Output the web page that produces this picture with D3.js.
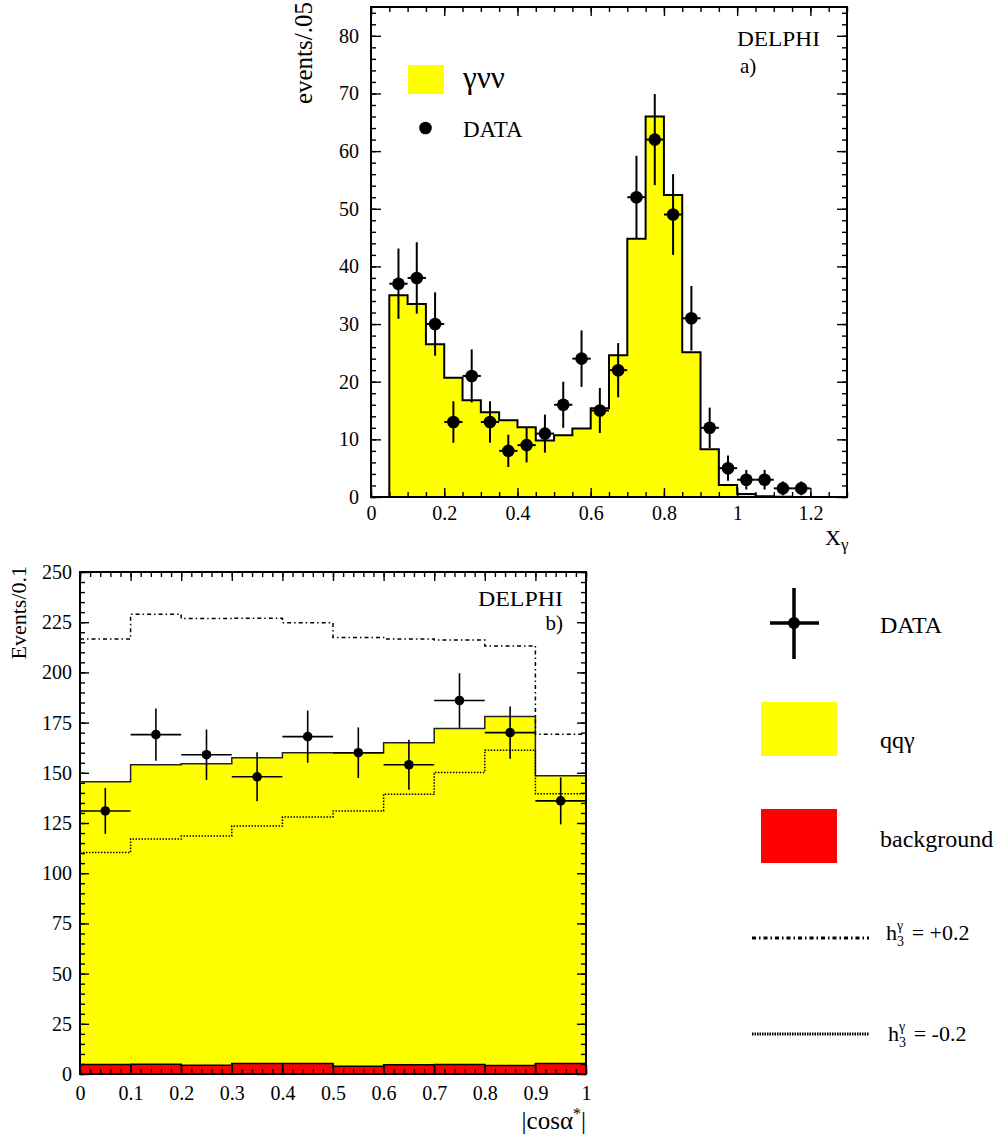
<!DOCTYPE html>
<html>
<head>
<meta charset="utf-8">
<script src="https://cdn.jsdelivr.net/npm/d3@7"></script>
<style>
  html, body { margin: 0; padding: 0; background: #fff; }
  svg { display: block; font-family: "Liberation Serif", "Times New Roman", serif; }
</style>
</head>
<body>
<svg id="chart" width="993" height="1137"></svg>
<script>
// ---------------- DATA: panel a) ----------------
const aBinEdges = [0.05,0.10,0.15,0.20,0.25,0.30,0.35,0.40,0.45,0.50,0.55,0.60,0.65,0.70,0.75,0.80,0.85,0.90,0.95,1.00,1.05,1.10,1.15];
const aMC = [35.0,33.5,26.5,20.7,16.8,14.7,13.3,12.1,9.8,10.7,11.9,15.4,24.6,44.8,66.0,52.4,25.1,8.3,2.1,0.5,0.15,0.05];
const aDataX = [0.075,0.125,0.175,0.225,0.275,0.325,0.375,0.425,0.475,0.525,0.575,0.625,0.675,0.725,0.775,0.825,0.875,0.925,0.975,1.025,1.075,1.125,1.175];
const aDataY = [37,38,30,13,21,13,8,9,11,16,24,15,22,52,62,49,31,12,5,3,3,1.5,1.5];
const aDataErr = [6.1,6.2,5.5,3.6,4.6,3.6,2.8,3.0,3.3,4.0,4.9,3.9,4.7,7.2,7.9,7.0,5.6,3.5,2.2,1.7,1.7,1.2,1.2];
const aXMajor = [0,0.2,0.4,0.6,0.8,1.0,1.2];
const aYMajor = [0,10,20,30,40,50,60,70,80];

// ---------------- DATA: panel b) ----------------
const bBinEdges = [0,0.1,0.2,0.3,0.4,0.5,0.6,0.7,0.8,0.9,1.0];
const bQQG = [145.5,154,154.5,157.5,160,160,165,172,178,148.5];
const bBkg = [4.7,4.9,4.4,5.2,5.2,3.9,4.6,4.7,4.2,5.2];
const bHPlus = [216.6,229,226.8,227,224.7,217.4,216.6,216.1,213.2,169.2];
const bHMinus = [110.3,117,118.5,123.5,128,131,139.3,150.2,161.2,139.6];
const bDataX = [0.05,0.15,0.25,0.35,0.45,0.55,0.65,0.75,0.85,0.95];
const bDataY = [131,169,159,148,168,160,154,186,170,136];
const bDataErr = [11.4,13,12.6,12.2,13,12.6,12.4,13.6,13,11.7];
const bXMajor = [0,0.1,0.2,0.3,0.4,0.5,0.6,0.7,0.8,0.9,1.0];
const bYMajor = [0,25,50,75,100,125,150,175,200,225,250];

// ---------------- helpers ----------------
const svg = d3.select('#chart');
const FONT = '"Liberation Serif", "Times New Roman", serif';
const fmt = d => String(+(+d).toFixed(2));
const range = (a, b, s) => d3.range(Math.round((b - a) / s) + 1).map(i => +(a + i * s).toFixed(4));

function stepPoints(edges, vals, closeToZero) {
  const pts = [];
  if (closeToZero) pts.push([edges[0], 0]);
  vals.forEach((v, i) => { pts.push([edges[i], v]); pts.push([edges[i + 1], v]); });
  if (closeToZero) pts.push([edges[edges.length - 1], 0]);
  return pts;
}

function frameAxes(g, x, y, o) {
  const [x0, x1] = x.range();
  const [y0, y1] = y.range();
  const style = sel => {
    sel.select('.domain').remove();
    sel.selectAll('line').attr('stroke', '#000').attr('stroke-width', 1.4);
    sel.selectAll('text').attr('font-family', FONT).attr('font-size', 20).attr('fill', '#000');
    sel.attr('font-family', null).attr('font-size', null);
  };
  g.append('g').attr('transform', `translate(0,${y0})`)
    .call(d3.axisBottom(x).tickValues(o.xMinor).tickSize(-5).tickFormat('')).call(style);
  g.append('g').attr('transform', `translate(0,${y0})`)
    .call(d3.axisBottom(x).tickValues(o.xMajor).tickSize(-o.majX).tickPadding(o.padX).tickFormat(fmt)).call(style);
  g.append('g').attr('transform', `translate(0,${y1})`)
    .call(d3.axisTop(x).tickValues(o.xMinor).tickSize(-5).tickFormat('')).call(style);
  g.append('g').attr('transform', `translate(0,${y1})`)
    .call(d3.axisTop(x).tickValues(o.xMajor).tickSize(-o.majX).tickFormat('')).call(style);
  g.append('g').attr('transform', `translate(${x0},0)`)
    .call(d3.axisLeft(y).tickValues(o.yMinor).tickSize(-5).tickFormat('')).call(style);
  g.append('g').attr('transform', `translate(${x0},0)`)
    .call(d3.axisLeft(y).tickValues(o.yMajor).tickSize(-o.majY).tickPadding(o.padY).tickFormat(fmt)).call(style);
  g.append('g').attr('transform', `translate(${x1},0)`)
    .call(d3.axisRight(y).tickValues(o.yMinor).tickSize(-5).tickFormat('')).call(style);
  g.append('g').attr('transform', `translate(${x1},0)`)
    .call(d3.axisRight(y).tickValues(o.yMajor).tickSize(-o.majY).tickFormat('')).call(style);
  g.append('rect').attr('x', x0).attr('y', y1).attr('width', x1 - x0).attr('height', y0 - y1)
    .attr('fill', 'none').attr('stroke', '#000').attr('stroke-width', 2);
}

// ================= Panel a =================
const xA = d3.scaleLinear().domain([0, 1.3]).range([371, 847]);
const yA = d3.scaleLinear().domain([0, 85]).range([497, 7]);
const gA = svg.append('g');
const lineA = d3.line().x(d => xA(d[0])).y(d => yA(d[1]));

const aPts = stepPoints(aBinEdges, aMC, true);
gA.append('path').attr('d', lineA(aPts) + 'Z').attr('fill', '#ffff00').attr('stroke', 'none');
gA.append('path').attr('d', lineA(aPts)).attr('fill', 'none').attr('stroke', '#000').attr('stroke-width', 2);

frameAxes(gA, xA, yA, {
  xMajor: aXMajor, xMinor: range(0, 1.3, 0.05),
  yMajor: aYMajor, yMinor: range(0, 84, 2),
  majX: 9, majY: 10, padX: 9, padY: 12
});

const aPtsG = gA.append('g');
aDataX.forEach((xv, i) => {
  const yv = aDataY[i], e = aDataErr[i];
  aPtsG.append('line').attr('x1', xA(xv)).attr('x2', xA(xv)).attr('y1', yA(yv - e)).attr('y2', yA(yv + e))
    .attr('stroke', '#000').attr('stroke-width', 2);
  aPtsG.append('line').attr('x1', xA(xv - 0.025)).attr('x2', xA(xv + 0.025)).attr('y1', yA(yv)).attr('y2', yA(yv))
    .attr('stroke', '#000').attr('stroke-width', 2);
  aPtsG.append('circle').attr('cx', xA(xv)).attr('cy', yA(yv)).attr('r', 6.3).attr('fill', '#000');
});

// legend a
gA.append('rect').attr('x', 408).attr('y', 65).attr('width', 36).attr('height', 29).attr('fill', '#ffff00');
gA.append('text').attr('x', 463).attr('y', 88).attr('font-size', 31).attr('font-family', FONT).text('γνν');
gA.append('circle').attr('cx', 425.5).attr('cy', 128).attr('r', 6.3).attr('fill', '#000');
gA.append('text').attr('x', 463).attr('y', 137).attr('font-size', 23).attr('font-family', FONT).text('DATA');

gA.append('text').attr('x', 737).attr('y', 46).attr('font-size', 21).attr('font-family', FONT)
  .attr('textLength', 83).attr('lengthAdjust', 'spacingAndGlyphs').text('DELPHI');
gA.append('text').attr('x', 740).attr('y', 73).attr('font-size', 21).attr('font-family', FONT).text('a)');
gA.append('text').attr('transform', 'translate(312,2) rotate(-90)').attr('text-anchor', 'end')
  .attr('font-size', 25).attr('font-family', FONT).text('events/.05');
const xl = gA.append('text').attr('x', 825).attr('y', 545).attr('font-size', 22).attr('font-family', FONT);
xl.append('tspan').text('X');
xl.append('tspan').attr('dy', 5).attr('font-size', 17).text('γ');

// ================= Panel b =================
const xB = d3.scaleLinear().domain([0, 1]).range([80, 586]);
const yB = d3.scaleLinear().domain([0, 250]).range([1074, 572]);
const gB = svg.append('g');
const lineB = d3.line().x(d => xB(d[0])).y(d => yB(d[1]));

const qPts = stepPoints(bBinEdges, bQQG, true);
gB.append('path').attr('d', lineB(qPts) + 'Z').attr('fill', '#ffff00');
gB.append('path').attr('d', lineB(stepPoints(bBinEdges, bQQG, false))).attr('fill', 'none')
  .attr('stroke', '#222').attr('stroke-width', 1.5);
const rPts = stepPoints(bBinEdges, bBkg, true);
gB.append('path').attr('d', lineB(rPts) + 'Z').attr('fill', '#ff0000');
gB.append('path').attr('d', lineB(stepPoints(bBinEdges, bBkg, false))).attr('fill', 'none')
  .attr('stroke', '#000').attr('stroke-width', 1.5);
bBinEdges.slice(1, -1).forEach((e, k) => {
  gB.append('line').attr('x1', xB(e)).attr('x2', xB(e)).attr('y1', yB(0))
    .attr('y2', yB(Math.max(bBkg[k], bBkg[k + 1])))
    .attr('stroke', '#000').attr('stroke-width', 1.2);
});

gB.append('path').attr('d', lineB(stepPoints(bBinEdges, bHPlus, false))).attr('fill', 'none')
  .attr('stroke', '#000').attr('stroke-width', 1.5).attr('stroke-dasharray', '4,3,1.5,3');
gB.append('path').attr('d', lineB(stepPoints(bBinEdges, bHMinus, false))).attr('fill', 'none')
  .attr('stroke', '#000').attr('stroke-width', 1.5).attr('stroke-dasharray', '1.5,1.5');

frameAxes(gB, xB, yB, {
  xMajor: bXMajor, xMinor: range(0, 1, 0.02),
  yMajor: bYMajor, yMinor: range(0, 250, 5),
  majX: 9, majY: 9, padX: 12, padY: 8
});

const bPtsG = gB.append('g');
bDataX.forEach((xv, i) => {
  const yv = bDataY[i], e = bDataErr[i];
  bPtsG.append('line').attr('x1', xB(xv)).attr('x2', xB(xv)).attr('y1', yB(yv - e)).attr('y2', yB(yv + e))
    .attr('stroke', '#000').attr('stroke-width', 1.6);
  bPtsG.append('line').attr('x1', xB(xv - 0.05)).attr('x2', xB(xv + 0.05)).attr('y1', yB(yv)).attr('y2', yB(yv))
    .attr('stroke', '#000').attr('stroke-width', 1.6);
  bPtsG.append('circle').attr('cx', xB(xv)).attr('cy', yB(yv)).attr('r', 4.8).attr('fill', '#000');
});

gB.append('text').attr('x', 563).attr('y', 606).attr('text-anchor', 'end').attr('font-size', 21).attr('font-family', FONT)
  .attr('textLength', 85).attr('lengthAdjust', 'spacingAndGlyphs').text('DELPHI');
gB.append('text').attr('x', 563).attr('y', 630).attr('text-anchor', 'end').attr('font-size', 21).attr('font-family', FONT).text('b)');
gB.append('text').attr('transform', 'translate(26,566) rotate(-90)').attr('text-anchor', 'end')
  .attr('font-size', 22).attr('font-family', FONT).text('Events/0.1');
const bxl = gB.append('text').attr('x', 586).attr('y', 1129).attr('text-anchor', 'end').attr('font-size', 25).attr('font-family', FONT);
bxl.append('tspan').text('|cosα');
bxl.append('tspan').attr('dy', -10).attr('font-size', 16).text('*');
bxl.append('tspan').attr('dy', 10).text('|');

// ================= Legend b =================
const gL = svg.append('g');
gL.append('line').attr('x1', 794).attr('x2', 794).attr('y1', 588).attr('y2', 659).attr('stroke', '#000').attr('stroke-width', 3.5);
gL.append('line').attr('x1', 770).attr('x2', 819).attr('y1', 623).attr('y2', 623).attr('stroke', '#000').attr('stroke-width', 3.5);
gL.append('circle').attr('cx', 794).attr('cy', 623).attr('r', 6).attr('fill', '#000');
gL.append('text').attr('x', 880).attr('y', 633).attr('font-size', 24).attr('font-family', FONT).text('DATA');

gL.append('rect').attr('x', 761).attr('y', 702).attr('width', 76).attr('height', 54).attr('fill', '#ffff00');
gL.append('text').attr('x', 880).attr('y', 748).attr('font-size', 24).attr('font-family', FONT).text('qqγ');
gL.append('rect').attr('x', 761).attr('y', 809).attr('width', 76).attr('height', 54).attr('fill', '#ff0000');
gL.append('text').attr('x', 880).attr('y', 847).attr('font-size', 24).attr('font-family', FONT).text('background');

gL.append('line').attr('x1', 752).attr('x2', 869).attr('y1', 938).attr('y2', 938)
  .attr('stroke', '#000').attr('stroke-width', 3).attr('stroke-dasharray', '4,3,1.5,3');
gL.append('line').attr('x1', 752).attr('x2', 869).attr('y1', 1034).attr('y2', 1034)
  .attr('stroke', '#000').attr('stroke-width', 3).attr('stroke-dasharray', '1.5,1');

function hLabel(x, y, rest) {
  const t = gL.append('text').attr('x', x).attr('y', y).attr('font-size', 22).attr('font-family', FONT);
  t.append('tspan').text('h');
  t.append('tspan').attr('dy', 6).attr('font-size', 14).text('3');
  t.append('tspan').attr('dx', -7).attr('dy', -16).attr('font-size', 14).text('γ');
  t.append('tspan').attr('dy', 10).attr('dx', 3).text(' = ' + rest);
}
hLabel(886, 940, '+0.2');
hLabel(888, 1041, '-0.2');
</script>
</body>
</html>
